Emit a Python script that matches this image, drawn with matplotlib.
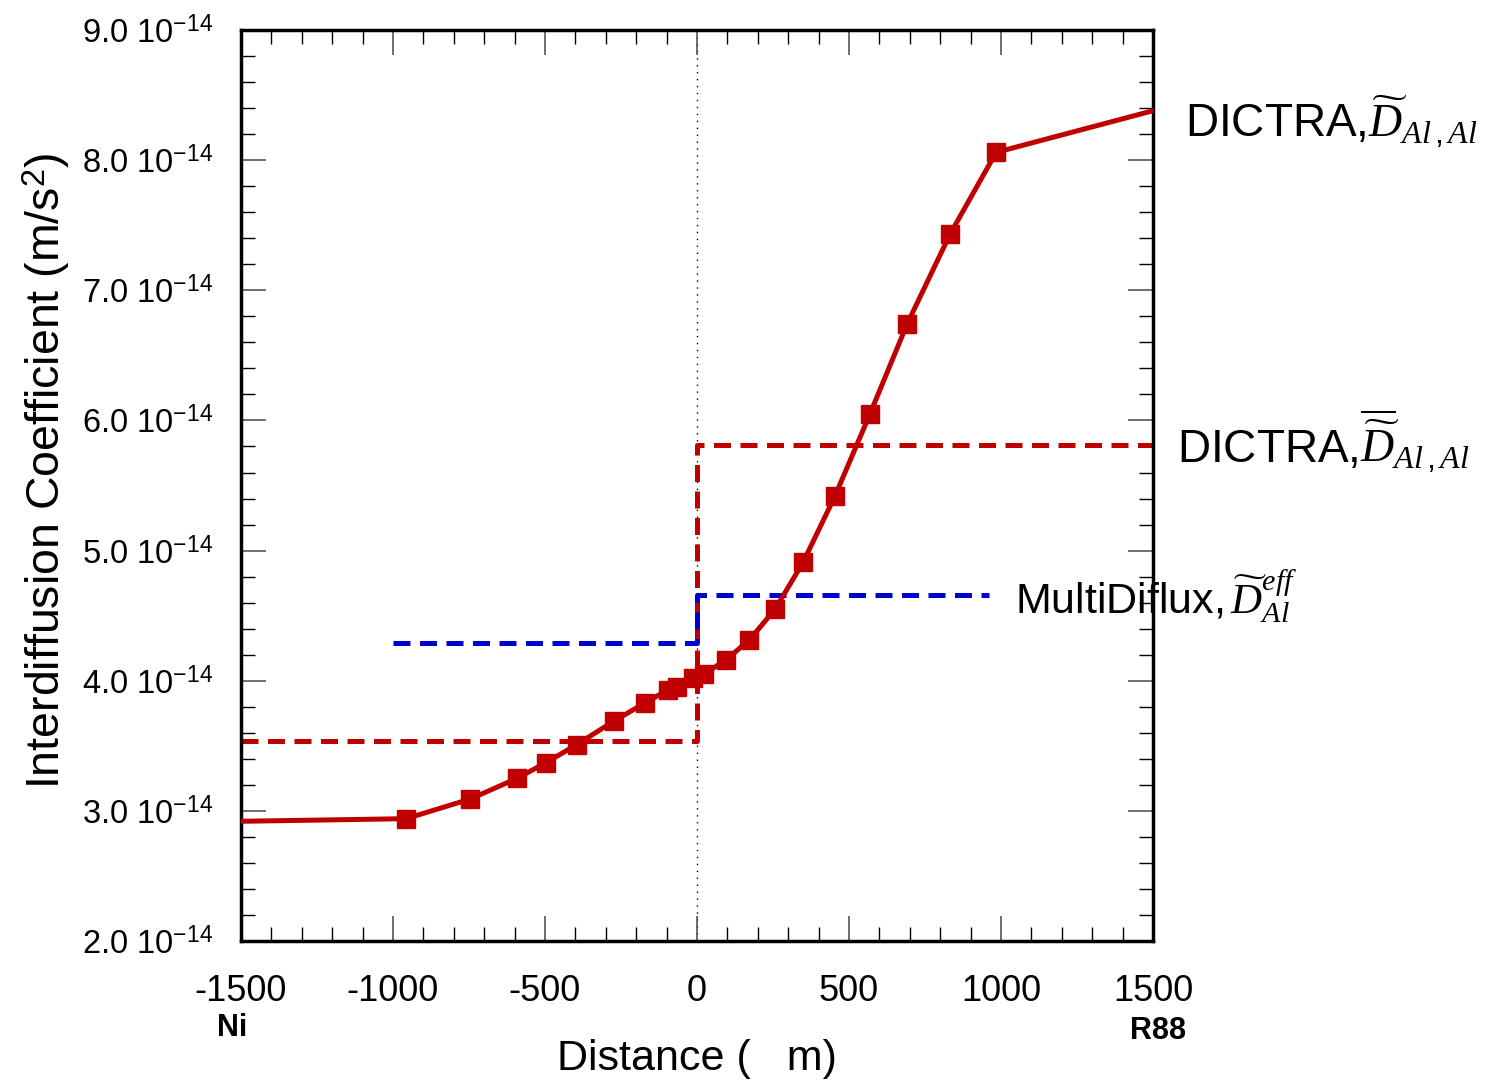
import matplotlib
matplotlib.use("Agg")
import matplotlib.pyplot as plt
from matplotlib.ticker import MultipleLocator

plt.rcParams["font.family"] = ["Liberation Sans", "DejaVu Sans"]
plt.rcParams["mathtext.fontset"] = "custom"
plt.rcParams["mathtext.rm"] = "Liberation Sans"
plt.rcParams["mathtext.it"] = "Liberation Serif:italic"
plt.rcParams["mathtext.bf"] = "Liberation Sans:bold"
plt.rcParams["mathtext.fallback"] = "stix"

# DICTRA interdiffusion coefficient profile (distance in um, D in 1e-14 m^2/s)
dist = [-1500, -957, -747, -592, -497, -395, -273, -171, -95, -66, -12, 23,
        95, 171, 257, 349, 454, 569, 691, 832, 984, 1500]
d_al = [2.92, 2.94, 3.09, 3.25, 3.37, 3.51, 3.69, 3.83, 3.93, 3.95, 4.02, 4.05,
        4.16, 4.31, 4.55, 4.91, 5.42, 6.05, 6.74, 7.43, 8.06, 8.38]

# averaged DICTRA values on each side of the Matano plane
avg_x = [-1500, 0, 0, 1500]
avg_d = [3.54, 3.54, 5.81, 5.81]

# MultiDiflux effective values
eff_x = [-1000, 0, 0, 960]
eff_d = [4.29, 4.29, 4.66, 4.66]

yticks = [2, 3, 4, 5, 6, 7, 8, 9]
ytick_labels = [f"{v:.1f} 10$^{{-14}}$" for v in yticks]
xticks = [-1500, -1000, -500, 0, 500, 1000, 1500]

red = "#c00000"
blue = "#0000cc"

fig = plt.figure(figsize=(14.92, 10.81), dpi=100)
ax = fig.add_axes([0.1615, 0.1295, 0.6113, 0.8427])

ax.axvline(0, color="black", lw=1, ls=(0, (1, 4)), zorder=1)
ax.plot(avg_x, avg_d, color=red, lw=3.6, ls=(0, (3.4, 1.9)), zorder=2)
ax.plot(eff_x, eff_d, color=blue, lw=3.6, ls=(0, (3.4, 1.9)), zorder=2)
ax.plot(dist[1:-1], d_al[1:-1], color=red, lw=3.6, marker="s", ms=12.5, zorder=3)
ax.plot(dist[:2], d_al[:2], color=red, lw=3.6, zorder=3)
ax.plot(dist[-2:], d_al[-2:], color=red, lw=3.6, zorder=3)

ax.set_xlim(-1500, 1500)
ax.set_ylim(2, 9)
ax.set_xticks(xticks)
ax.set_xticklabels([str(v) for v in xticks])
ax.set_yticks(yticks)
ax.set_yticklabels(ytick_labels)
ax.xaxis.set_minor_locator(MultipleLocator(100))
ax.yaxis.set_minor_locator(MultipleLocator(0.2))
ax.tick_params(which="both", direction="in", top=True, right=True)
ax.tick_params(axis="x", labelsize=26)
ax.tick_params(axis="y", labelsize=23.5)
ax.tick_params(which="major", length=18, width=1.2, color="#555555")
ax.tick_params(axis="x", which="major", pad=24)
ax.tick_params(axis="y", which="major", pad=20)
ax.tick_params(which="minor", length=10, width=1, color="black")
for s in ax.spines.values():
    s.set_linewidth(2.5)

ax.set_xlabel("Distance (   m)", fontsize=31)
ax.xaxis.set_label_coords(0.5, -0.108)
ax.set_ylabel("Interdiffusion Coefficient (m/s$^2$)", fontsize=33.5)
ax.yaxis.set_label_coords(-0.184, 0.516)

ax.text(-1530, 1.33, "Ni", fontsize=22, fontweight="bold", ha="center", va="center")
ax.text(1515, 1.31, "R88", fontsize=22, fontweight="bold", ha="center", va="center")

ax.text(1605, 8.30, r"DICTRA,$\widetilde{D}_{Al\,,Al}$", fontsize=33, va="center",
        ha="left", clip_on=False)
ax.text(1580, 5.84, r"DICTRA,$\overline{\widetilde{D}}_{Al\,,Al}$", fontsize=33,
        va="center", ha="left", clip_on=False)
ax.text(1045, 4.65, r"MultiDiflux,$\,\widetilde{D}_{Al}^{eff}$", fontsize=31,
        va="center", ha="left", clip_on=False)

fig.savefig("out.png", dpi=100)
